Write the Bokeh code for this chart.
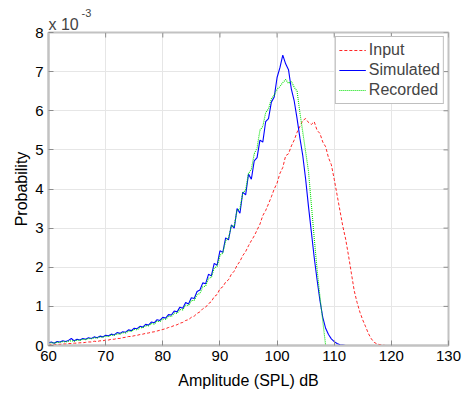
from bokeh.plotting import figure
from bokeh.models import Range1d, Title, Legend, LegendItem, FixedTicker
from bokeh.embed import file_html
from bokeh.resources import INLINE

# ---- data (probability, in units of 1e-3) ----
x_start = 60.0
x_step = 0.5

input_vals = [0.02, 0.03, 0.02, 0.03, 0.03, 0.04, 0.04, 0.05, 0.05, 0.06,
              0.06, 0.07, 0.07, 0.08, 0.09, 0.09, 0.11, 0.10, 0.12, 0.12,
              0.14, 0.14, 0.16, 0.16, 0.18, 0.18, 0.20, 0.21, 0.23, 0.23,
              0.25, 0.26, 0.28, 0.29, 0.31, 0.32, 0.34, 0.35, 0.37, 0.39,
              0.41, 0.43, 0.46, 0.48, 0.51, 0.53, 0.57, 0.59, 0.64, 0.66,
              0.72, 0.75, 0.82, 0.86, 0.94, 0.98, 1.07, 1.12, 1.25, 1.30,
              1.45, 1.50, 1.62, 1.68, 1.82, 1.90, 2.05, 2.15, 2.30, 2.40,
              2.55, 2.68, 2.80, 2.95, 3.10, 3.32, 3.45, 3.62, 3.80, 4.00,
              4.15, 4.40, 4.55, 4.85, 4.90, 5.10, 5.25, 5.45, 5.60, 5.75,
              5.80, 5.70, 5.65, 5.72, 5.50, 5.42, 5.20, 5.08, 4.80, 4.62,
              4.25, 3.85, 3.45, 3.05, 2.72, 2.30, 1.85, 1.40, 1.10, 0.85,
              0.65, 0.48, 0.30, 0.17, 0.08, 0.04, 0.02, 0.01, 0.00]

simulated_vals = [0.07, 0.09, 0.06, 0.10, 0.09, 0.12, 0.10, 0.13, 0.18, 0.12,
                  0.16, 0.14, 0.18, 0.16, 0.20, 0.18, 0.22, 0.20, 0.24, 0.22,
                  0.26, 0.25, 0.29, 0.27, 0.33, 0.31, 0.35, 0.34, 0.40, 0.38,
                  0.44, 0.43, 0.49, 0.47, 0.54, 0.52, 0.60, 0.58, 0.66, 0.64,
                  0.72, 0.70, 0.79, 0.78, 0.88, 0.86, 0.98, 0.95, 1.10, 1.06,
                  1.22, 1.20, 1.38, 1.42, 1.60, 1.58, 1.82, 1.78, 2.10, 2.05,
                  2.42, 2.38, 2.75, 2.70, 3.08, 3.00, 3.50, 3.38, 3.92, 3.85,
                  4.38, 4.25, 4.72, 4.80, 5.25, 5.20, 5.72, 5.80, 6.22, 6.35,
                  6.85, 7.10, 7.42, 7.20, 7.05, 6.55, 6.25, 5.80, 5.30, 4.85,
                  4.25, 3.55, 2.90, 2.25, 1.68, 1.15, 0.72, 0.44, 0.28, 0.17,
                  0.10, 0.05, 0.02, 0.01, 0.00]

recorded_vals = [0.05, 0.07, 0.06, 0.08, 0.08, 0.10, 0.09, 0.11, 0.12, 0.11,
                 0.14, 0.13, 0.16, 0.15, 0.18, 0.17, 0.20, 0.19, 0.22, 0.21,
                 0.24, 0.23, 0.27, 0.26, 0.30, 0.29, 0.33, 0.32, 0.37, 0.36,
                 0.41, 0.40, 0.46, 0.45, 0.51, 0.50, 0.56, 0.55, 0.62, 0.61,
                 0.68, 0.67, 0.75, 0.74, 0.83, 0.82, 0.92, 0.91, 1.03, 1.02,
                 1.15, 1.15, 1.30, 1.33, 1.50, 1.52, 1.72, 1.74, 1.98, 2.02,
                 2.30, 2.36, 2.68, 2.75, 3.05, 3.05, 3.45, 3.50, 3.90, 3.98,
                 4.40, 4.50, 4.90, 5.05, 5.50, 5.60, 5.95, 6.05, 6.30, 6.40,
                 6.55, 6.62, 6.72, 6.80, 6.70, 6.75, 6.60, 6.50, 5.95, 5.45,
                 4.95, 4.45, 3.60, 2.75, 1.95, 1.25, 0.62, 0.00]

x_ticks = [60, 70, 80, 90, 100, 110, 120, 130]
y_ticks = [0, 1, 2, 3, 4, 5, 6, 7, 8]


def xs_for(vals):
    return [x_start + i * x_step for i in range(len(vals))]


FONT = "Liberation Sans"
FRAME = "#c2c2c2"
TICK = "#8c8c8c"

p = figure(width=468, height=395, output_backend="svg", toolbar_location=None,
           x_range=Range1d(60, 130), y_range=Range1d(0, 8),
           min_border_left=48, min_border_right=20, min_border_top=32,
           min_border_bottom=50)
p.background_fill_color = "white"
p.border_fill_color = "white"
p.outline_line_color = FRAME
p.outline_line_width = 2

for ax in (p.xaxis[0], p.yaxis[0]):
    ax.axis_line_color = FRAME
    ax.axis_line_width = 2
    ax.major_tick_line_color = TICK
    ax.major_tick_in = 5
    ax.major_tick_out = 0
    ax.minor_tick_line_color = None
    ax.major_label_text_font = FONT
    ax.major_label_text_font_size = "15px"
    ax.major_label_text_color = "black"
    ax.axis_label_text_font = FONT
    ax.axis_label_text_font_size = "16px"
    ax.axis_label_text_font_style = "normal"
    ax.axis_label_text_color = "black"

p.xaxis[0].ticker = FixedTicker(ticks=x_ticks)
p.yaxis[0].ticker = FixedTicker(ticks=y_ticks)
p.xaxis[0].axis_label = "Amplitude (SPL) dB"
p.yaxis[0].axis_label = "Probability"
p.xaxis[0].major_label_standoff = 5
p.xaxis[0].axis_label_standoff = 8
p.yaxis[0].major_label_standoff = 5
p.yaxis[0].axis_label_standoff = 2

p.xgrid.ticker = FixedTicker(ticks=x_ticks)
p.ygrid.ticker = FixedTicker(ticks=y_ticks)
p.grid.grid_line_color = "#e6e6e6"
p.grid.grid_line_width = 1

# mirror ticks on the top and right edges of the box
tick_dy = 0.128   # 5 px in y data units
tick_dx = 0.875   # 5 px in x data units
p.segment(x0=x_ticks, y0=[8] * len(x_ticks), x1=x_ticks,
          y1=[8 - tick_dy] * len(x_ticks), line_color=TICK, line_width=1)
p.segment(x0=[130] * len(y_ticks), y0=y_ticks, x1=[130 - tick_dx] * len(y_ticks),
          y1=y_ticks, line_color=TICK, line_width=1)

r_in = p.line(xs_for(input_vals), input_vals, line_color="#ff0000",
              line_width=1, line_dash="3 2", line_alpha=0.85)
r_sim = p.line(xs_for(simulated_vals), simulated_vals, line_color="#0000ff",
               line_width=1.1)
r_rec = p.line(xs_for(recorded_vals), recorded_vals, line_color="#00e000",
               line_width=1.1, line_dash="1 1")

legend = Legend(items=[LegendItem(label="Input", renderers=[r_in]),
                       LegendItem(label="Simulated", renderers=[r_sim]),
                       LegendItem(label="Recorded", renderers=[r_rec])],
                location="top_right")
legend.margin = 4
legend.padding = 3
legend.spacing = 0
legend.glyph_width = 27
legend.glyph_height = 20
legend.label_height = 20
legend.label_standoff = 3
legend.label_text_font = FONT
legend.label_text_font_size = "16px"
legend.border_line_color = "#808080"
legend.border_line_width = 1
legend.background_fill_color = "white"
legend.background_fill_alpha = 1
p.add_layout(legend, "center")

# "x 10^-3" exponent note above the y axis
p.add_layout(Title(text="x 10", align="left", offset=0, standoff=-1,
                   text_font=FONT, text_font_size="16px",
                   text_font_style="normal", vertical_align="bottom"), "above")
p.add_layout(Title(text="-3", align="left", offset=33, standoff=-5,
                   text_font=FONT, text_font_size="11px",
                   text_font_style="normal", vertical_align="bottom"), "above")

open("out.html", "w").write(file_html(p, INLINE))
